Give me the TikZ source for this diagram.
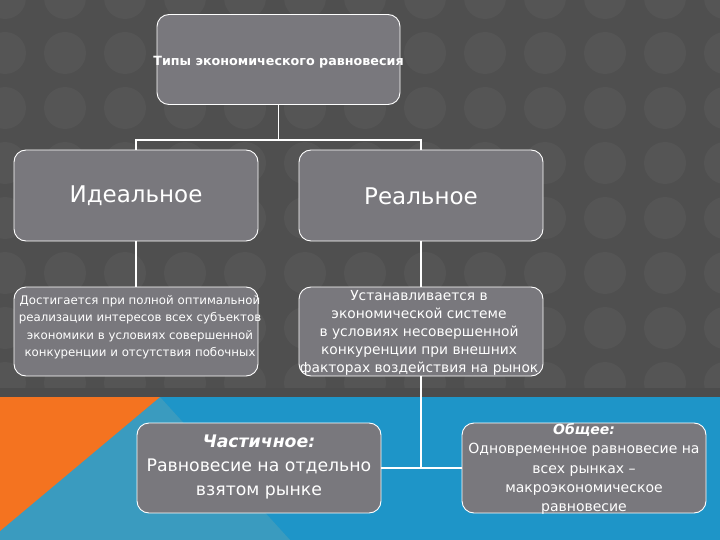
\documentclass[tikz,border=0pt]{standalone}
\usepackage{fontspec}
\setmainfont{DejaVu Sans}
\definecolor{bggray}{RGB}{79,79,79}
\definecolor{circgray}{RGB}{85,85,85}
\definecolor{bandgray}{RGB}{76,76,76}
\definecolor{boxgray}{RGB}{121,120,125}
\definecolor{mainblue}{RGB}{30,149,200}
\definecolor{lightblue}{RGB}{58,155,191}
\definecolor{orangetri}{RGB}{244,115,32}
\begin{document}
\begin{tikzpicture}[x=1pt,y=-1pt,
  box/.style={draw=white, line width=0.9pt, fill=boxgray, rounded corners=12pt,
              inner sep=0pt, minimum width=244pt, minimum height=90pt},
  txt/.style={text=white, align=center, inner sep=0pt},
  conn/.style={draw=white, line width=1.6pt}]
\useasboundingbox (0,0) rectangle (720,540);
% background
\fill[bggray] (0,0) rectangle (720,397);
\begin{scope}
  \clip (0,0) rectangle (720,388);
  \foreach \x in {5,65,...,725} {
    \foreach \y in {-2,53,...,400} {
      \fill[circgray] (\x,\y) circle[radius=21pt];
    }
  }
\end{scope}
\fill[bandgray] (0,388) rectangle (720,397);
\fill[mainblue] (0,397) rectangle (720,540);
\fill[lightblue] (160,397) -- (290,540) -- (0,540) -- (0,530) -- cycle;
\fill[orangetri] (0,397) -- (160,397) -- (0,531) -- cycle;

% boxes
\node[box, minimum width=243pt, minimum height=90pt] (top) at (278.5,59.5) {};
\node[box, minimum height=91pt] (ideal) at (136,195.5) {};
\node[box, minimum height=91pt] (real) at (421,195.5) {};
\node[box, minimum height=89pt] (idesc) at (136,331.5) {};
\node[box, minimum height=89pt] (rdesc) at (421,331.5) {};
\node[box] (part) at (259,468) {};
\node[box] (gen) at (584,468) {};

% connectors
\coordinate (j) at (278.5,140);
\coordinate (j2) at (421,468);
\draw[conn] (top.south) -- (j);
\draw[conn] (ideal.north) |- (j) -| (real.north);
\draw[conn] (ideal.south) -- (idesc.north);
\draw[conn] (real.south) -- (rdesc.north);
\draw[conn] (rdesc.south) -- (j2);
\draw[conn] (part.east) -- (gen.west);

% texts
\node[txt, font=\bfseries\fontsize{12.7}{15}\selectfont] (topT) at (278.5,62) {Типы экономического равновесия};
\node[txt, font=\fontsize{23}{28}\selectfont] (idealT) at (136,196) {Идеальное};
\node[txt, font=\fontsize{23}{28}\selectfont] (realT) at (421,196) {Реальное};
\node[txt, font=\fontsize{11.8}{17.5}\selectfont] (idescT) at (140,327) {Достигается при полной оптимальной\\реализации интересов всех субъектов\\экономики в условиях совершенной\\конкуренции и отсутствия побочных};
\node[txt, font=\fontsize{13.8}{17.8}\selectfont] (rdescT) at (419,333) {Устанавливается в\\экономической системе\\в условиях несовершенной\\конкуренции при внешних\\факторах воздействия на рынок};
\node[txt, font=\fontsize{17.3}{24}\selectfont] (partT) at (259,467) {\textbf{\textit{Частичное:}}\\Равновесие на отдельно\\взятом рынке};
\node[txt, font=\fontsize{14}{19.2}\selectfont] (genT) at (584,469) {\textbf{\textit{Общее:}}\\Одновременное равновесие на\\всех рынках –\\макроэкономическое\\равновесие};
\end{tikzpicture}
\end{document}
